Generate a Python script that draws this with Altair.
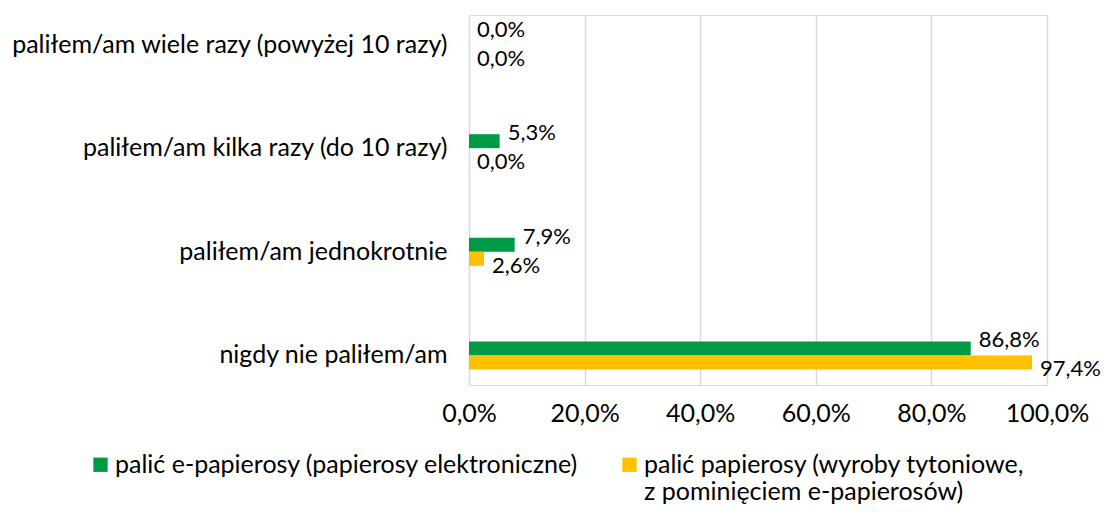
import altair as alt
import pandas as pd

categories = [
    "paliłem/am wiele razy (powyżej 10 razy)",
    "paliłem/am kilka razy (do 10 razy)",
    "paliłem/am jednokrotnie",
    "nigdy nie paliłem/am",
]
series = [
    "palić e-papierosy (papierosy elektroniczne)",
    "palić papierosy (wyroby tytoniowe,|z pominięciem e-papierosów)",
]
e_cig = [0.0, 5.3, 7.9, 86.8]
cig = [0.0, 0.0, 2.6, 97.4]
x_ticks = [0, 20, 40, 60, 80, 100]
colors = ["#009A46", "#FFC000"]

rows = []
for c, a, b in zip(categories, e_cig, cig):
    rows.append({"cat": c, "series": series[0], "value": a})
    rows.append({"cat": c, "series": series[1], "value": b})
df = pd.DataFrame(rows)
df["label"] = df["value"].map(lambda v: f"{v:.1f}".replace(".", ",") + "%")

FONT = "Lato"

y = alt.Y(
    "cat:N",
    sort=categories,
    scale=alt.Scale(paddingInner=0.73, paddingOuter=0.15),
    axis=alt.Axis(
        title=None,
        labelFontSize=25,
        labelPadding=22,
        labelLimit=600,
        domain=False,
        ticks=False,
        labelColor="#000000",
        labelFont=FONT,
    ),
)
yoff = alt.YOffset("series:N", sort=series, scale=alt.Scale(paddingInner=0, paddingOuter=0))
x = alt.X(
    "value:Q",
    scale=alt.Scale(domain=[0, 100]),
    axis=alt.Axis(
        title=None,
        values=x_ticks,
        labelExpr="replace(format(datum.value, '.1f'), '.', ',') + '%'",
        labelFlush=False,
        grid=True,
        gridColor="#D9D9D9",
        gridWidth=1.5,
        domain=False,
        ticks=False,
        labelFontSize=25,
        labelPadding=16,
        labelColor="#000000",
        labelFont=FONT,
    ),
)
color = alt.Color(
    "series:N",
    sort=series,
    scale=alt.Scale(domain=series, range=colors),
    legend=alt.Legend(
        title=None,
        orient="none",
        legendX=-381,
        legendY=437,
        direction="horizontal",
        columns=2,
        columnPadding=38,
        symbolType="square",
        symbolSize=205,
        symbolStrokeWidth=0,
        symbolOffset=0,
        labelFontSize=25,
        labelLimit=700,
        labelFont=FONT,
        labelColor="#000000",
        labelExpr="indexof(datum.label, '|') >= 0 ? split(datum.label, '|') : [datum.label, '']",
        labelBaseline="middle",
        labelOffset=2,
    ),
)

base = alt.Chart(df)
bars = base.mark_bar().encode(y=y, yOffset=yoff, x=x, color=color)
text_green = base.transform_filter(alt.datum.series == series[0]).mark_text(
    align="left", baseline="middle", dx=8, dy=-8, fontSize=22, font=FONT, color="#000000"
).encode(y=y, yOffset=yoff, x=x, text="label:N")
text_yellow = base.transform_filter(alt.datum.series == series[1]).mark_text(
    align="left", baseline="middle", dx=8, dy=7, fontSize=22, font=FONT, color="#000000"
).encode(y=y, yOffset=yoff, x=x, text="label:N")

chart = (
    alt.layer(bars, text_green, text_yellow)
    .properties(
        width=578,
        height=370,
        autosize=alt.AutoSizeParams(type="none"),
        padding={"left": 461, "top": 7, "right": 54, "bottom": 121},
    )
    .configure_view(stroke=None)
    .configure(font=FONT)
)

chart.save("out.html", embed_options={"renderer": "svg", "actions": False})
